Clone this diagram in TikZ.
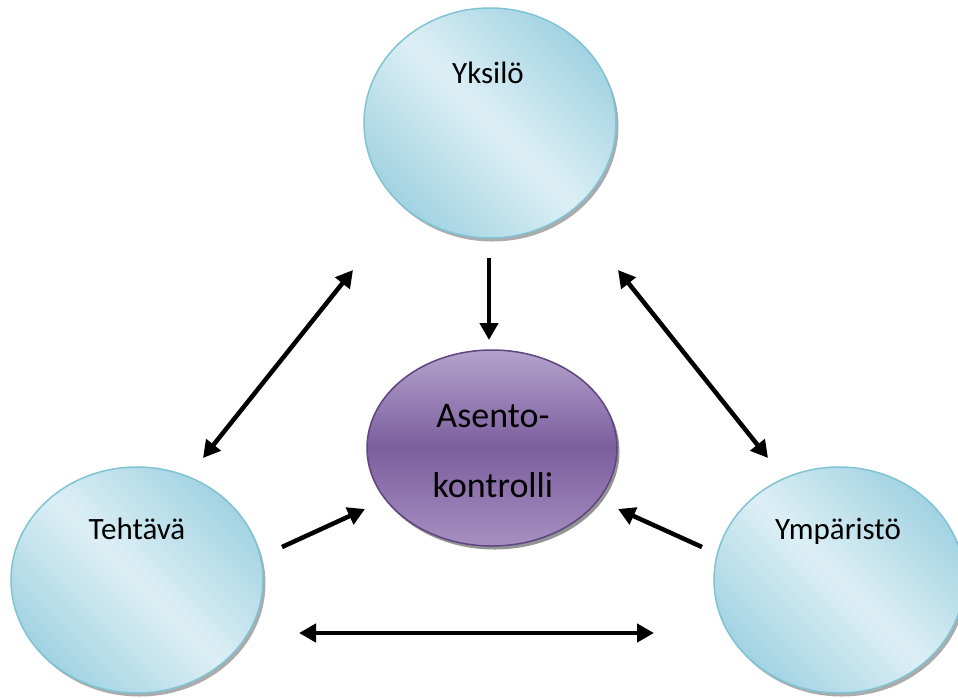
\documentclass[tikz,border=0pt]{standalone}
\usepackage{fontspec}
\setmainfont{Carlito}
\usetikzlibrary{arrows.meta,shapes.geometric,shadows}
\definecolor{bluedark}{HTML}{A2D3E2}
\definecolor{bluelight}{HTML}{DDEFF5}
\definecolor{blueborder}{HTML}{7FC3D5}
\definecolor{purptop}{HTML}{B3A3CB}
\definecolor{purpmid}{HTML}{7C5E9F}
\definecolor{purpbot}{HTML}{A690C0}
\definecolor{purpborder}{HTML}{5E4580}
\tikzset{
  bluebubble/.style={ellipse, inner sep=0pt, draw=blueborder, line width=1.5pt,
    left color=bluedark, right color=bluedark, middle color=bluelight, shading angle=135,
    drop shadow={shadow xshift=2.5pt, shadow yshift=-3.5pt, fill=black!55, opacity=0.6}},
  purplebubble/.style={ellipse, inner sep=0pt, draw=purpborder, line width=1.5pt,
    top color=purptop, bottom color=purpbot, middle color=purpmid,
    drop shadow={shadow xshift=2.5pt, shadow yshift=-3.5pt, fill=black!60, opacity=0.7}},
  lbl/.style={anchor=base, inner sep=0pt, font=\fontsize{31}{37}\selectfont},
  conn/.style={line width=4.5pt, -{Triangle[length=17pt,width=18pt]}},
  conn2/.style={line width=4.5pt, {Triangle[length=17pt,width=18pt]}-{Triangle[length=17pt,width=18pt]}}
}
\begin{document}
\begin{tikzpicture}[x=1pt,y=-1pt]
\useasboundingbox (0,0) rectangle (958,697);
% ellipses
\node[bluebubble, minimum width=252pt, minimum height=230pt] (yks) at (490,123) {};
\node[bluebubble, minimum width=252pt, minimum height=226pt] (teh) at (137,580) {};
\node[bluebubble, minimum width=250pt, minimum height=226pt] (ymp) at (839,580) {};
\node[purplebubble, minimum width=250pt, minimum height=196pt] (ako) at (492,448) {};
% labels
\node[lbl] (yksT) at (488,83) {Yksilö};
\node[lbl] (tehT) at (137,539) {Tehtävä};
\node[lbl] (ympT) at (838,539) {Ympäristö};
\node[anchor=base, inner sep=0pt, font=\fontsize{36}{43}\selectfont] (akoA) at (493,427) {Asento-};
\node[anchor=base, inner sep=0pt, font=\fontsize{36}{43}\selectfont] (akoB) at (493,497) {kontrolli};
% connector endpoints
\coordinate (c1a) at (489,258);
\coordinate (c1b) at (489,340);
\coordinate (c2a) at (353,270);
\coordinate (c2b) at (203,458);
\coordinate (c3a) at (618,270);
\coordinate (c3b) at (768,458);
\coordinate (c4a) at (282,547);
\coordinate (c4b) at (365,509);
\coordinate (c5a) at (702,547);
\coordinate (c5b) at (618,509);
\coordinate (c6a) at (299,633);
\coordinate (c6b) at (654,633);
% connectors
\draw[conn] (c1a) -- (c1b);
\draw[conn2] (c2a) -- (c2b);
\draw[conn2] (c3a) -- (c3b);
\draw[conn] (c4a) -- (c4b);
\draw[conn] (c5a) -- (c5b);
\draw[conn2] (c6a) -- (c6b);
\end{tikzpicture}
\end{document}
